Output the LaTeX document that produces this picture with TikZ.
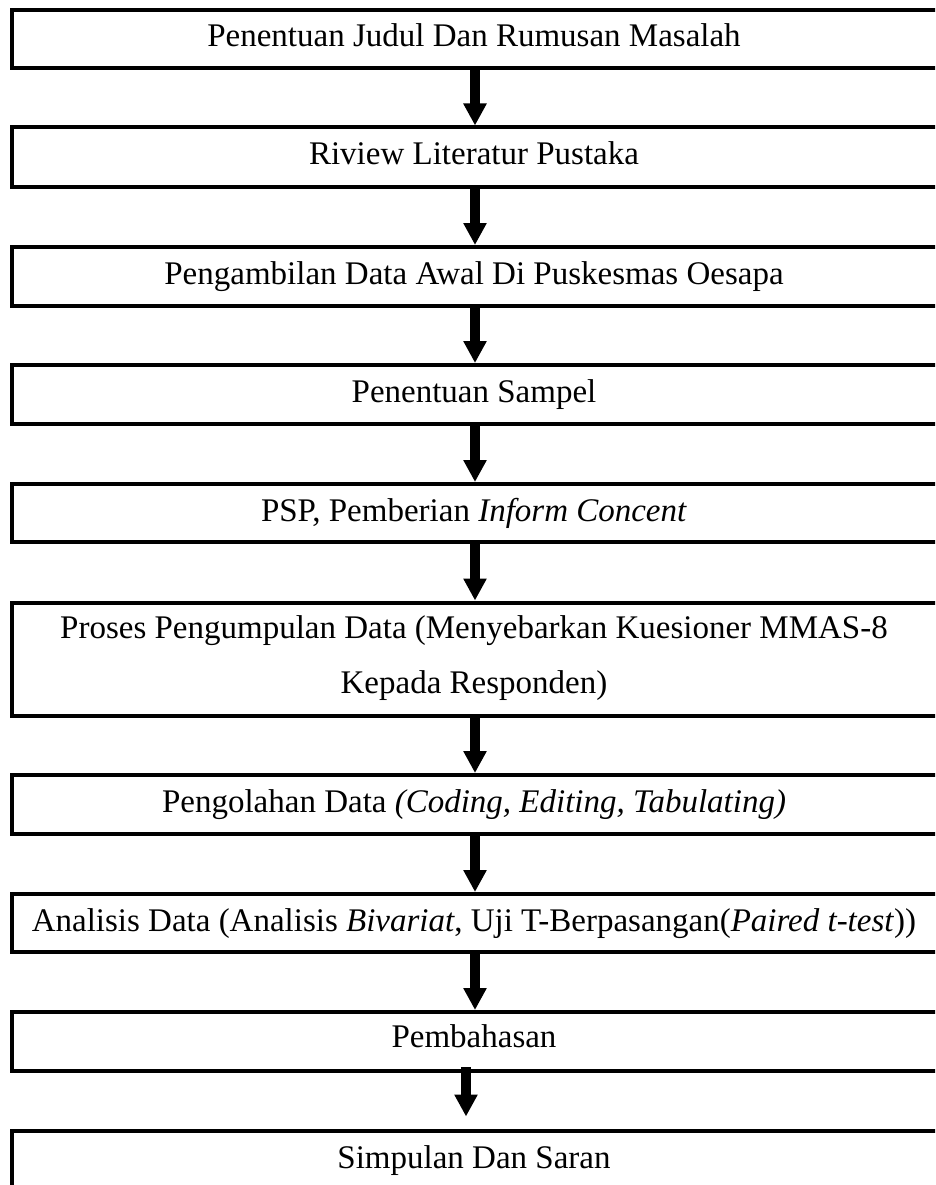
\documentclass[tikz,border=0pt]{standalone}
\usepackage{fontspec}
\setmainfont{Liberation Serif}
\usetikzlibrary{arrows.meta}
\begin{document}
\begin{tikzpicture}[x=1pt,y=-1pt,
  box/.style={draw, line width=4pt, minimum width=928pt, inner sep=0pt, anchor=center},
  lbl/.style={font=\fontsize{33}{55}\selectfont, inner sep=0pt, anchor=base, align=center},
  arr/.style={line width=10pt, -{Triangle[width=22pt,length=22pt]}}]
\path[use as bounding box, clip] (0,0) rectangle (935,1185);
\fill[white] (0,0) rectangle (935,1185);
% boxes
\node[box, minimum height=58.5pt] (b1) at (476,39.25) {};
\node[box, minimum height=60pt]   (b2) at (476,157.5) {};
\node[box, minimum height=58.5pt] (b3) at (476,276.25) {};
\node[box, minimum height=58.5pt] (b4) at (476,394.25) {};
\node[box, minimum height=58pt]   (b5) at (476,513) {};
\node[box, minimum height=113.5pt] (b6) at (476,659.25) {};
\node[box, minimum height=59pt]   (b7) at (476,804.5) {};
\node[box, minimum height=58pt]   (b8) at (476,923) {};
\node[box, minimum height=59pt]   (b9) at (476,1041.5) {};
\node[box, minimum height=70pt]   (b10) at (476,1165.5) {};
% labels
\node[lbl] (t1) at ([xshift=-2pt,yshift=-39pt]b1.north) {Penentuan Judul Dan Rumusan Masalah};
\node[lbl] (t2) at ([xshift=-2pt,yshift=-39pt]b2.north) {Riview Literatur Pustaka};
\node[lbl] (t3) at ([xshift=-2pt,yshift=-39pt]b3.north) {Pengambilan Data Awal Di Puskesmas Oesapa};
\node[lbl] (t4) at ([xshift=-2pt,yshift=-39pt]b4.north) {Penentuan Sampel};
\node[lbl] (t5) at ([xshift=-2pt,yshift=-39pt]b5.north) {PSP, Pemberian \textit{Inform Concent}};
\node[lbl] (t6) at ([xshift=-2pt,yshift=-93pt]b6.north) {Proses Pengumpulan Data (Menyebarkan Kuesioner MMAS-8\\Kepada Responden)};
\node[lbl] (t7) at ([xshift=-2pt,yshift=-39pt]b7.north) {Pengolahan Data \textit{(Coding, Editing, Tabulating)}};
\node[lbl] (t8) at ([xshift=-2pt,yshift=-39pt]b8.north) {Analisis Data (Analisis \textit{Bivariat}, Uji T-Berpasangan(\textit{Paired t-test}))};
\node[lbl] (t9) at ([xshift=-2pt,yshift=-37pt]b9.north) {Pembahasan};
\node[lbl] (t10) at ([xshift=-2pt,yshift=-40pt]b10.north) {Simpulan Dan Saran};
% arrows
\draw[arr] ([xshift=-1pt]b1.south) -- ([xshift=-1pt]b2.north);
\draw[arr] ([xshift=-1pt]b2.south) -- ([xshift=-1pt]b3.north);
\draw[arr] ([xshift=-1pt]b3.south) -- ([xshift=-1pt]b4.north);
\draw[arr] ([xshift=-1pt]b4.south) -- ([xshift=-1pt]b5.north);
\draw[arr] ([xshift=-1pt]b5.south) -- ([xshift=-1pt]b6.north);
\draw[arr] ([xshift=-1pt]b6.south) -- ([xshift=-1pt]b7.north);
\draw[arr] ([xshift=-1pt]b7.south) -- ([xshift=-1pt]b8.north);
\draw[arr] ([xshift=-1pt]b8.south) -- ([xshift=-1pt]b9.north);
\draw[arr] ([xshift=-10pt,yshift=6pt]b9.south) -- ([xshift=-10pt,yshift=12pt]b10.north);
\end{tikzpicture}
\end{document}
